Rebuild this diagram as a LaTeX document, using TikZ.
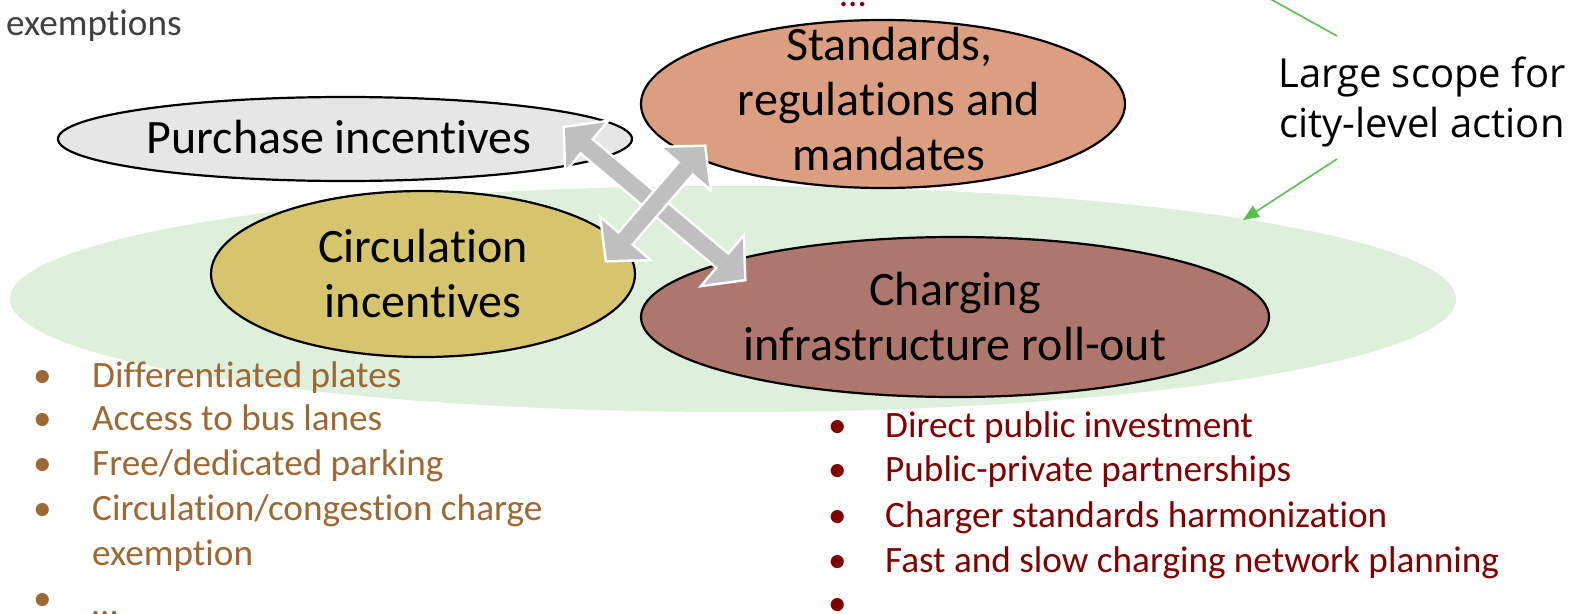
\documentclass[tikz,border=0pt]{standalone}
\usepackage{fontspec}
\setmainfont{Carlito}[Ligatures={NoCommon,NoContextual}]
\newfontfamily\scopefont{Open Sans}
\usetikzlibrary{arrows.meta,shapes.geometric}

\definecolor{scopegreen}{RGB}{222,239,219}
\definecolor{linegreen}{RGB}{92,190,78}
\definecolor{purchasefill}{RGB}{230,230,230}
\definecolor{standardsfill}{RGB}{220,158,128}
\definecolor{circfill}{RGB}{214,196,110}
\definecolor{chargefill}{RGB}{173,119,109}
\definecolor{arrowgray}{RGB}{191,191,191}
\definecolor{circtext}{RGB}{158,104,52}
\definecolor{chargetext}{RGB}{128,0,0}
\definecolor{notegray}{RGB}{64,64,64}

\tikzset{
  blob/.style={ellipse, draw=black, line width=2.2pt, inner sep=0pt, align=center,
    font=\fontsize{48}{55}\selectfont},
  blobtext/.style={inner sep=0pt, align=center, font=\fontsize{48}{55}\selectfont},
  listtext/.style={anchor=base west, inner sep=0pt, font=\fontsize{37.2}{44}\selectfont},
  scopeline/.style={draw=linegreen, line width=1.6pt},
  bigarrowbg/.style={draw=white, line width=21pt,
    {Triangle[length=33pt,width=73pt,line width=0pt]}-{Triangle[length=33pt,width=73pt,line width=0pt]},
    shorten <=-3.4pt, shorten >=-3.4pt},
  bigarrow/.style={draw=arrowgray, line width=16pt,
    {Triangle[length=27pt,width=60pt,line width=0pt]}-{Triangle[length=27pt,width=60pt,line width=0pt]}},
}

\begin{document}
\begin{tikzpicture}[x=1pt,y=-1pt]
\useasboundingbox (0,0) rectangle (1576,613);
\clip (0,0) rectangle (1576,613);

% area of city-level action
\node[ellipse, fill=scopegreen, minimum width=1446pt, minimum height=226pt, inner sep=0pt] (scope) at (733,299) {};

% policy ellipses
\node[blob, fill=purchasefill, minimum width=574pt, minimum height=84pt] (purchase) at (345,139) {};
\node[blobtext] (purchasetext) at (339,137) {Purchase incentives};
\node[blob, fill=standardsfill, minimum width=484pt, minimum height=168pt] (standards) at (883,104) {};
\node[blobtext] (standardstext) at (889,99) {Standards,\\regulations and\\mandates};
\node[blob, fill=circfill, minimum width=424pt, minimum height=166pt] (circulation) at (423,274) {Circulation\\incentives};
\node[blob, fill=chargefill, minimum width=628pt, minimum height=160pt] (charging) at (955,317) {Charging\\infrastructure roll-out};

% crossing double arrows
\coordinate (ax1) at (565,128);
\coordinate (ax2) at (744,279);
\coordinate (ay1) at (607,260);
\coordinate (ay2) at (704,147);
\draw[bigarrowbg] (ax1) -- (ax2);
\draw[bigarrow] (ax1) -- (ax2);
\draw[bigarrowbg] (ay1) -- (ay2);
\draw[bigarrow] (ay1) -- (ay2);

% scope label and its pointers
\node[inner sep=0pt, align=center, font=\scopefont\fontsize{40}{50}\selectfont] (scopelabel) at (1422,102) {Large scope for\\city-level action};
\coordinate (up1) at (1337,36);
\coordinate (up2) at (1265,-4);
\coordinate (dn1) at (1337,159);
\coordinate (dn2) at (1243,220);
\draw[scopeline] (up1) -- (up2);
\draw[scopeline, -{Triangle[length=16pt,width=13pt]}] (dn1) -- (dn2);

% text continuing from above
\node[listtext, text=notegray] (exempt) at (6,35) {exemptions};
\node[listtext, text=chargetext] (topdots) at (840,6) {…};

% circulation incentive measures
\node[listtext, text=circtext] (cb1) at (33,387) {•};
\node[listtext, text=circtext] (ct1) at (92,387) {Differentiated plates};
\node[listtext, text=circtext] (cb2) at (33,430) {•};
\node[listtext, text=circtext] (ct2) at (92,430) {Access to bus lanes};
\node[listtext, text=circtext] (cb3) at (33,475) {•};
\node[listtext, text=circtext] (ct3) at (92,475) {Free/dedicated parking};
\node[listtext, text=circtext] (cb4) at (33,520) {•};
\node[listtext, text=circtext] (ct4) at (92,520) {Circulation/congestion charge};
\node[listtext, text=circtext] (ct4b) at (92,565) {exemption};
\node[listtext, text=circtext] (cb5) at (33,610) {•};
\node[listtext, text=circtext] (ct5) at (92,615) {…};

% charging infrastructure measures
\node[listtext, text=chargetext] (hb1) at (828,437) {•};
\node[listtext, text=chargetext] (ht1) at (885,437) {Direct public investment};
\node[listtext, text=chargetext] (hb2) at (828,481) {•};
\node[listtext, text=chargetext] (ht2) at (885,481) {Public-private partnerships};
\node[listtext, text=chargetext] (hb3) at (828,527) {•};
\node[listtext, text=chargetext] (ht3) at (885,527) {Charger standards harmonization};
\node[listtext, text=chargetext] (hb4) at (828,572) {•};
\node[listtext, text=chargetext] (ht4) at (885,572) {Fast and slow charging network planning};
\node[listtext, text=chargetext] (hb5) at (828,615) {•};
\node[listtext, text=chargetext] (ht5) at (885,619) {…};
\end{tikzpicture}
\end{document}
